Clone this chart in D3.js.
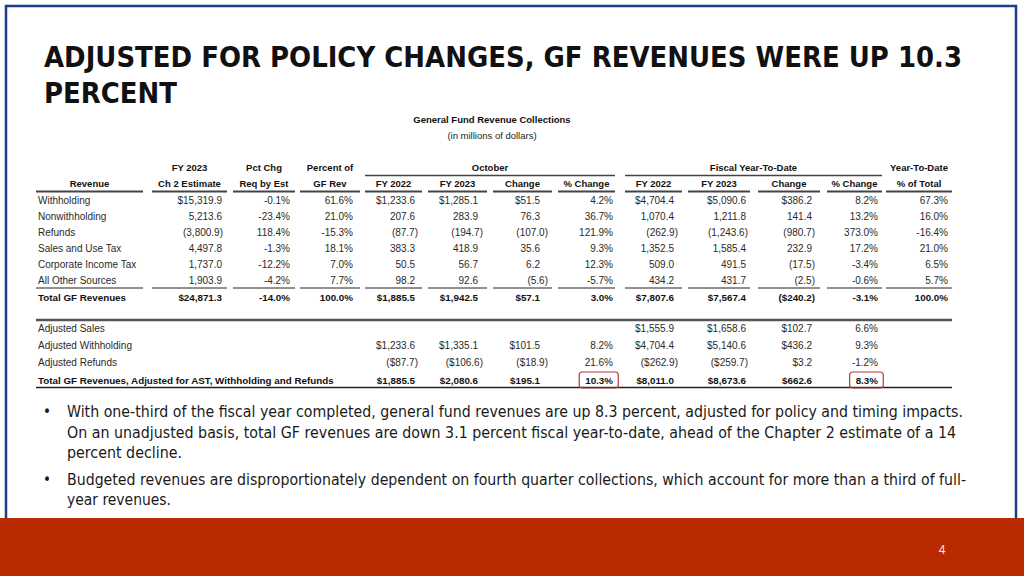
<!DOCTYPE html>
<html>
<head>
<meta charset="utf-8">
<script src="https://cdn.jsdelivr.net/npm/d3@7"></script>
<style>
  html, body { margin: 0; padding: 0; background: #fff; }
  svg { display: block; }
</style>
</head>
<body>
<svg id="chart" width="1024" height="576"></svg>
<script>
// ---------------- DATA ----------------
const titleLines = ["ADJUSTED FOR POLICY CHANGES, GF REVENUES WERE UP 10.3", "PERCENT"];
const tableTitle = "General Fund Revenue Collections";
const tableSubtitle = "(in millions of dollars)";

const categories = ["Withholding", "Nonwithholding", "Refunds", "Sales and Use Tax",
  "Corporate Income Tax", "All Other Sources", "Total GF Revenues"];
const ch2Estimate = [15319.9, 5213.6, -3800.9, 4497.8, 1737.0, 1903.9, 24871.3];
const pctChgReq   = [-0.1, -23.4, 118.4, -1.3, -12.2, -4.2, -14.0];
const pctOfGF     = [61.6, 21.0, -15.3, 18.1, 7.0, 7.7, 100.0];
const octFY22     = [1233.6, 207.6, -87.7, 383.3, 50.5, 98.2, 1885.5];
const octFY23     = [1285.1, 283.9, -194.7, 418.9, 56.7, 92.6, 1942.5];
const octChange   = [51.5, 76.3, -107.0, 35.6, 6.2, -5.6, 57.1];
const octPctChg   = [4.2, 36.7, 121.9, 9.3, 12.3, -5.7, 3.0];
const ytdFY22     = [4704.4, 1070.4, -262.9, 1352.5, 509.0, 434.2, 7807.6];
const ytdFY23     = [5090.6, 1211.8, -1243.6, 1585.4, 491.5, 431.7, 7567.4];
const ytdChange   = [386.2, 141.4, -980.7, 232.9, -17.5, -2.5, -240.2];
const ytdPctChg   = [8.2, 13.2, 373.0, 17.2, -3.4, -0.6, -3.1];
const ytdShare    = [67.3, 16.0, -16.4, 21.0, 6.5, 5.7, 100.0];

const adjCategories = ["Adjusted Sales", "Adjusted Withholding", "Adjusted Refunds",
  "Total GF Revenues, Adjusted for AST, Withholding and Refunds"];
const adjOctFY22   = [null, 1233.6, -87.7, 1885.5];
const adjOctFY23   = [null, 1335.1, -106.6, 2080.6];
const adjOctChange = [null, 101.5, -18.9, 195.1];
const adjOctPct    = [null, 8.2, 21.6, 10.3];
const adjYtdFY22   = [1555.9, 4704.4, -262.9, 8011.0];
const adjYtdFY23   = [1658.6, 5140.6, -259.7, 8673.6];
const adjYtdChange = [102.7, 436.2, 3.2, 662.6];
const adjYtdPct    = [6.6, 9.3, -1.2, 8.3];

const groupHeaders = ["October", "Fiscal Year-To-Date", "Year-To-Date"];
const headerTop = ["", "FY 2023", "Pct Chg", "Percent of", "", "", "", "", "", "", "", "", ""];
const headerBottom = ["Revenue", "Ch 2 Estimate", "Req by Est", "GF Rev", "FY 2022", "FY 2023",
  "Change", "% Change", "FY 2022", "FY 2023", "Change", "% Change", "% of Total"];

const bulletLines = [
  ["With one-third of the fiscal year completed, general fund revenues are up 8.3 percent, adjusted for policy and timing impacts.",
   "On an unadjusted basis, total GF revenues are down 3.1 percent fiscal year-to-date, ahead of the Chapter 2 estimate of a 14",
   "percent decline."],
  ["Budgeted revenues are disproportionately dependent on fourth quarter collections, which account for more than a third of full-",
   "year revenues."]
];
const pageNumber = "4";

// ---------------- LAYOUT ----------------
const svg = d3.select("#chart");
const TF = "'Liberation Sans', Arial, sans-serif";
const NARROW = "'Liberation Sans Narrow', 'DejaVu Sans Condensed', 'Liberation Sans', sans-serif";

// frame
svg.append("path")
  .attr("d", "M6,519 V6 H1016 V519")
  .attr("fill", "none").attr("stroke", "#1F3C88").attr("stroke-width", 2.5);
// footer band
svg.append("rect").attr("x", 0).attr("y", 518).attr("width", 1024).attr("height", 58).attr("fill", "#B92A02");
svg.append("text").attr("x", 942).attr("y", 554).attr("text-anchor", "middle")
  .attr("font-family", TF).attr("font-size", 12).attr("fill", "#F6E4D8").text(pageNumber);

// title
const titleWidths = [918, 133];
const titleY = d3.scalePoint().domain(titleLines).range([67, 103]);
svg.selectAll("text.title").data(titleLines).join("text")
  .attr("class", "title")
  .attr("x", 44).attr("y", d => titleY(d))
  .attr("font-family", NARROW).attr("font-weight", "bold").attr("font-size", 29)
  .attr("fill", "#111")
  .attr("textLength", (d, i) => titleWidths[i]).attr("lengthAdjust", "spacingAndGlyphs")
  .text(d => d);

// table title
svg.append("text").attr("x", 492).attr("y", 123).attr("text-anchor", "middle")
  .attr("font-family", TF).attr("font-weight", "bold").attr("font-size", 9.5).attr("fill", "#111").text(tableTitle);
svg.append("text").attr("x", 492).attr("y", 139).attr("text-anchor", "middle")
  .attr("font-family", TF).attr("font-size", 9.5).attr("fill", "#222").text(tableSubtitle);

// column segments (left, right) and right-alignment anchor
const segs = [[36,143],[152,227],[233,295],[300,360],[365,422],[428,487],[493,552],[558,615],[625,682],[688,750],[758,820],[827,882],[886,952]];
const colRight = [null, 222, 290, 353, 415, 478, 540, 613, 674, 746, 812, 878, 948];
const parenPad = [0, 1, 0, 0, 3, 5, 8, 0, 4, 2, 3, 0, 0];

const mainCols = [null, ch2Estimate, pctChgReq, pctOfGF, octFY22, octFY23, octChange, octPctChg,
  ytdFY22, ytdFY23, ytdChange, ytdPctChg, ytdShare];
const colType = [null, "m", "p", "p", "m", "m", "m", "p", "m", "m", "m", "p", "p"];

function fmtMoney(v, dollar) {
  const body = (dollar ? "$" : "") + d3.format(",.1f")(Math.abs(v));
  return v < 0 ? "(" + body + ")" : body;
}
function fmtPct(v) { return (v < 0 ? "-" : "") + Math.abs(v).toFixed(1) + "%"; }

// headers
const hdr = svg.append("g").attr("font-family", TF).attr("font-size", 9.5).attr("font-weight", "bold").attr("fill", "#111");
headerTop.forEach((t, i) => {
  if (!t) return;
  hdr.append("text").attr("x", (segs[i][0] + segs[i][1]) / 2).attr("y", 171).attr("text-anchor", "middle").text(t);
});
headerBottom.forEach((t, i) => {
  hdr.append("text").attr("x", (segs[i][0] + segs[i][1]) / 2).attr("y", 187).attr("text-anchor", "middle").text(t);
  svg.append("line").attr("x1", segs[i][0]).attr("x2", segs[i][1]).attr("y1", 191.5).attr("y2", 191.5)
    .attr("stroke", "#444").attr("stroke-width", 2);
});
const groupSpans = [[365, 615], [625, 882], [886, 952]];
groupHeaders.forEach((t, i) => {
  const [a, b] = groupSpans[i];
  hdr.append("text").attr("x", (a + b) / 2).attr("y", 171).attr("text-anchor", "middle").text(t);
  if (i < 2) svg.append("line").attr("x1", a).attr("x2", b).attr("y1", 175.5).attr("y2", 175.5)
    .attr("stroke", "#444").attr("stroke-width", 1.5);
});

// main rows
const yMain = d3.scalePoint().domain(categories).range([200, 297]);
const body = svg.append("g").attr("font-family", TF).attr("font-size", 10).attr("fill", "#222");
categories.forEach((cat, r) => {
  const isTotal = r === categories.length - 1;
  const y = yMain(cat) + 3.5;
  const g = body.append("g").attr("font-weight", isTotal ? "bold" : "normal")
    .attr("font-size", isTotal ? 9.8 : 10).attr("fill", isTotal ? "#111" : "#2a2a2a");
  g.append("text").attr("x", 38).attr("y", y).text(cat);
  for (let c = 1; c < mainCols.length; c++) {
    const v = mainCols[c][r];
    const dollar = r === 0 || isTotal;
    const txt = colType[c] === "m" ? fmtMoney(v, dollar) : fmtPct(v);
    const x = colRight[c] + (colType[c] === "m" && v < 0 ? parenPad[c] : 0);
    g.append("text").attr("x", x).attr("y", y).attr("text-anchor", "end").text(txt);
  }
});
// line above total
segs.forEach(s => {
  svg.append("line").attr("x1", s[0]).attr("x2", s[1]).attr("y1", 288).attr("y2", 288)
    .attr("stroke", "#222").attr("stroke-width", 1);
});

// adjusted section
svg.append("line").attr("x1", 36).attr("x2", 952).attr("y1", 320).attr("y2", 320).attr("stroke", "#555").attr("stroke-width", 2.5);
svg.append("line").attr("x1", 36).attr("x2", 952).attr("y1", 387.5).attr("y2", 387.5).attr("stroke", "#222").attr("stroke-width", 1.5);

const adjCols = [null, null, null, null, adjOctFY22, adjOctFY23, adjOctChange, adjOctPct,
  adjYtdFY22, adjYtdFY23, adjYtdChange, adjYtdPct, null];
const yAdj = d3.scalePoint().domain(adjCategories).range([328, 380]);
const highlight = [];
adjCategories.forEach((cat, r) => {
  const isTotal = r === adjCategories.length - 1;
  const y = yAdj(cat) + 3.5;
  const g = body.append("g").attr("font-weight", isTotal ? "bold" : "normal")
    .attr("font-size", isTotal ? 9.8 : 10).attr("fill", isTotal ? "#111" : "#2a2a2a");
  g.append("text").attr("x", 38).attr("y", y).text(cat);
  for (let c = 4; c <= 11; c++) {
    const v = adjCols[c][r];
    if (v === null) continue;
    const txt = colType[c] === "m" ? fmtMoney(v, true) : fmtPct(v);
    const x = colRight[c] + (colType[c] === "m" && v < 0 ? parenPad[c] : 0);
    const t = g.append("text").attr("x", x).attr("y", y).attr("text-anchor", "end").text(txt);
    if (isTotal && colType[c] === "p") highlight.push(t);
  }
});
highlight.forEach(t => {
  const b = t.node().getBBox();
  svg.append("rect").attr("x", b.x - 6).attr("y", 372).attr("width", b.width + 11).attr("height", 16)
    .attr("rx", 3).attr("fill", "none").attr("stroke", "#B8383C").attr("stroke-width", 1.2);
});

// bullets
const bulletWidths = [[896, 889, 115], [899, 104]];
const bulletY = [[417, 438, 458], [485, 505]];
const bl = svg.append("g").attr("font-family", NARROW).attr("font-size", 15).attr("fill", "#1a1a1a");
bulletLines.forEach((lines, b) => {
  bl.append("text").attr("x", 43).attr("y", bulletY[b][0]).text("•");
  lines.forEach((ln, i) => {
    bl.append("text").attr("x", 67).attr("y", bulletY[b][i])
      .attr("textLength", bulletWidths[b][i]).attr("lengthAdjust", "spacingAndGlyphs").text(ln);
  });
});
</script>
</body>
</html>
